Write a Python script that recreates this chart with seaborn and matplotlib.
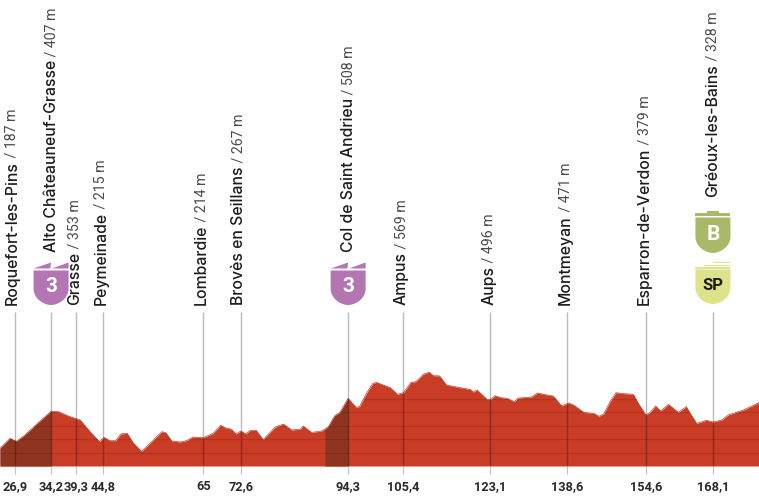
import matplotlib
matplotlib.use("Agg")
import matplotlib.pyplot as plt
from matplotlib.patches import PathPatch, Polygon
from matplotlib.path import Path
import pandas as pd
import seaborn as sns

# profile
profile_km = [23.87, 25.9, 27.2, 28.9, 31.3, 34.2, 35.7, 37.7, 40.1, 42.1, 44.0, 44.9, 46.1, 47.3, 48.3, 49.6,
              50.8, 52.5, 54.9, 56.6, 57.4, 58.6, 60.3, 61.6, 62.9, 65.0, 67.0, 68.5, 69.4, 70.7, 71.6, 72.6,
              73.6, 74.4, 75.7, 77.1, 79.5, 81.2, 82.9, 84.6, 85.2, 86.9, 88.9, 89.6, 90.3, 91.6, 92.6, 94.3,
              95.9, 96.6, 98.0, 99.3, 100.1, 100.75, 102.8, 104.3, 105.5, 107.0, 108.0, 109.5, 110.7, 111.5,
              112.8, 114.2, 116.9, 119.1, 119.6, 120.4, 122.3, 123.1, 124.0, 125.2, 126.5, 127.9, 128.7, 131.4,
              132.6, 133.8, 135.8, 137.5, 138.9, 139.9, 142.0, 144.0, 145.0, 146.0, 147.3, 148.5, 150.0, 152.0,
              153.0, 154.5, 155.4, 156.5, 157.5, 159.1, 161.1, 162.7, 163.5, 164.8, 166.8, 168.1, 169.9, 171.2,
              174.3, 177.4]
profile_m = [132, 206, 184, 231, 313, 408, 405, 373, 343, 256, 182, 214, 189, 189, 239, 244,
             174, 109, 194, 256, 249, 187, 179, 189, 216, 211, 244, 303, 286, 274, 239, 261,
             239, 264, 266, 197, 289, 313, 269, 274, 299, 251, 261, 275, 294, 376, 398, 505,
             438, 443, 542, 617, 624, 614, 585, 535, 547, 624, 629, 684, 701, 674,
             672, 604, 585, 570, 552, 567, 500, 495, 525, 510, 505, 480, 507, 515,
             545, 535, 522, 448, 470, 455, 400, 393, 371, 388, 480, 547, 540, 535,
             468, 381, 400, 448, 410, 460, 400, 443, 393, 318, 341, 328, 343, 381,
             418, 473]

point_km = [26.9, 34.2, 39.3, 44.8, 65, 72.6, 94.3, 105.4, 123.1, 138.6, 154.6, 168.1]
point_labels = ["26,9", "34,2", "39,3", "44,8", "65", "72,6", "94,3", "105,4", "123,1", "138,6", "154,6", "168,1"]
point_names = ["Roquefort-les-Pins", "Alto Châteauneuf-Grasse", "Grasse", "Peymeinade", "Lombardie",
               "Brovès en Seillans", "Col de Saint Andrieu", "Ampus", "Aups", "Montmeyan",
               "Esparron-de-Verdon", "Gréoux-les-Bains"]
point_alts = ["187 m", "407 m", "353 m", "215 m", "214 m", "267 m", "508 m", "569 m", "496 m", "471 m", "379 m", "328 m"]
climbs = [(23.87, 34.2), (89.6, 94.3)]
grid_m = [100, 200, 300, 400, 500]

RED = "#c93c26"
DARK = "#8f3420"
W, H = 759, 500
BASE = 466
PX_PER_M = 0.134
PX_PER_KM = 4.943

sns.set_theme(style="white")
plt.rcParams["font.family"] = ["Inter", "DejaVu Sans"]

df = pd.DataFrame({"km": profile_km, "alt": profile_m})

fig = plt.figure(figsize=(W / 100, H / 100), dpi=100)
ax = fig.add_axes([0, (H - BASE) / H, 1, BASE / H])
ax.set_xlim(23.87, 23.87 + W / PX_PER_KM)
ax.set_ylim(0, BASE / PX_PER_M)
sns.despine(ax=ax, left=True, bottom=True)
ax.set_yticks([])

top = ax.fill_between(df["km"], df["alt"], 0, color=RED, lw=0, zorder=2)
sns.lineplot(data=df, x="km", y="alt", color=RED, lw=0.5, ax=ax, zorder=2, legend=False)
for a, b in climbs:
    part = df[(df["km"] >= a) & (df["km"] <= b)]
    ax.fill_between(part["km"], part["alt"], 0, color=DARK, lw=0, zorder=3)

clip = top.get_paths()[0]
for g in grid_m:
    ln = ax.axhline(g, color="black", alpha=0.12, lw=0.8, zorder=4)
    ln.set_clip_path(clip, ax.transData)

ax.vlines(point_km, 0, (BASE - 312) / PX_PER_M, color="black", alpha=0.27, lw=1, zorder=5)

ax.set_xticks(point_km)
ax.set_xticklabels(point_labels, family=["Roboto", "DejaVu Sans"], fontsize=9.2, color="#2a2a2a", weight="bold")
ax.tick_params(axis="x", bottom=True, length=6, width=0.8, color="#c4c4c4", pad=4.2)
ax.set_xlabel("")
ax.set_ylabel("")

# pixel overlay for the place names and the jersey badges
over = fig.add_axes([0, 0, 1, 1], facecolor="none")
over.set_xlim(0, W)
over.set_ylim(H, 0)
over.axis("off")

name_bottom = [305, 252, 305, 305, 305, 305, 252, 305, 305, 305, 305, 197]
name_shift = [-3, 0, -2, -2.5, -2, -2.5, 0, -1.5, -1.5, -1.5, -1.5, 0]
for km, name, alt, yb, dx in zip(point_km, point_names, point_alts, name_bottom, name_shift):
    px = (km - 23.87) * PX_PER_KM + dx
    t = over.text(px, yb, name, rotation=90, ha="center", va="bottom", fontsize=11.4, weight="medium", color="#1c1c1c")
    over.annotate(" / " + alt, xy=(0.5, 1), xycoords=t, rotation=90, ha="center", va="bottom",
                  fontsize=10.2, weight="normal", color="#4a4a4a", family=["Roboto", "DejaVu Sans"])


def shield(x0, x1, y0, y1, color):
    # flat top, straight sides, rounded bottom
    cx = (x0 + x1) / 2
    ys = y1 - (x1 - x0) * 0.47
    verts = [(x0, y0), (x1, y0), (x1, ys), (x1, y1 - 6), (cx + 7, y1), (cx, y1), (cx - 7, y1), (x0, y1 - 6), (x0, ys), (x0, y0)]
    codes = [Path.MOVETO, Path.LINETO, Path.LINETO, Path.CURVE4, Path.CURVE4, Path.CURVE4, Path.CURVE4, Path.CURVE4,
             Path.CURVE4, Path.CLOSEPOLY]
    over.add_patch(PathPatch(Path(verts, codes), fc=color, ec="none", zorder=6))


def badge_text(x, y, s, color, size=15):
    over.text(x, y, s, ha="center", va="center", color=color, fontsize=size, weight="bold",
              family=["Roboto", "DejaVu Sans"], zorder=7)


PURPLE = "#b376b3"
for km in (34.2, 94.3):
    cx = (km - 23.87) * PX_PER_KM
    shield(cx - 17.5, cx + 17.5, 270.5, 305, PURPLE)
    over.add_patch(Polygon([(cx - 17.5, 268.5), (cx, 262.5), (cx - 0.8, 268.5)], fc=PURPLE, ec="none", zorder=6))
    over.add_patch(Polygon([(cx + 1, 268.5), (cx + 17.5, 262.5), (cx + 17.5, 268.5)], fc=PURPLE, ec="none", zorder=6))
    badge_text(cx, 286, "3", "white")

cx = (168.1 - 23.87) * PX_PER_KM
OLIVE = "#a9b968"
shield(cx - 17.5, cx + 17.5, 217.5, 253, OLIVE)
over.add_patch(Polygon([(cx - 17.5, 216), (cx - 17.5, 213), (cx - 6, 213), (cx - 6, 210.5), (cx + 6, 210.5), (cx + 6, 213),
                        (cx + 17.5, 213), (cx + 17.5, 216)], fc=OLIVE, ec="none", zorder=6))
badge_text(cx, 235, "B", "white")

LIME = "#dde38a"
shield(cx - 17.5, cx + 17.5, 269.5, 304, LIME)
for x_left, y_top in [(-17.5, 267), (-8.5, 264.5), (0, 261.5)]:
    over.add_patch(Polygon([(cx + x_left, y_top), (cx + 17, y_top), (cx + 17, y_top + 1.5), (cx + x_left, y_top + 1.5)],
                           fc=LIME, ec="none", zorder=6))
badge_text(cx, 286, "SP", "#1c1c1c", size=12)

fig.savefig("out.png", dpi=100)
